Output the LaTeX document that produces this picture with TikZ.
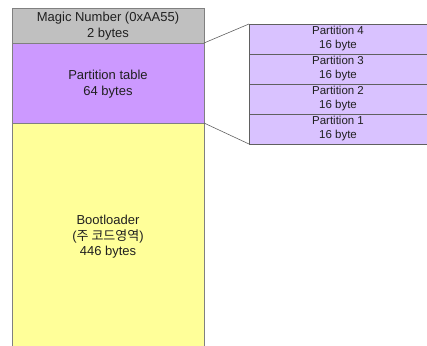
\documentclass[tikz,border=0pt]{standalone}
\usepackage{fontspec}
\setmainfont{Liberation Sans}
\newfontfamily\kr{Noto Sans CJK KR}
\definecolor{cgray}{HTML}{C0C0C0}
\definecolor{cpurple}{HTML}{CC99FF}
\definecolor{cyellow}{HTML}{FFFF99}
\definecolor{clight}{HTML}{D9C2FF}
\definecolor{cedge}{HTML}{808080}
\definecolor{cpedge}{HTML}{606060}
\definecolor{ctext}{HTML}{202020}
\begin{document}
\begin{tikzpicture}[x=1pt,y=-1pt,
  lbl/.style={text=ctext,font=\fontsize{13}{15.5}\selectfont,align=center},
  plbl/.style={text=ctext,font=\fontsize{11.5}{14}\selectfont,align=center},
  blk/.style={draw=cedge,line width=0.8pt},
  pblk/.style={draw=cpedge,line width=0.8pt,fill=clight},
  link/.style={draw=cpedge,line width=0.6pt}]
\useasboundingbox (0,0) rectangle (427,345);
% left column
\fill[cyellow] (12,123) rectangle (204,346);
\draw[blk] (12,346) -- (12,123) -- (204,123) -- (204,346);
\draw[blk,fill=cpurple] (12,43) rectangle (204,123);
\draw[blk,fill=cgray] (12,8) rectangle (204,43);
\node[lbl] (magic) at (108,26) {Magic Number (0xAA55)\\2 bytes};
\node[lbl] (ptab) at (108,84) {Partition table\\64 bytes};
\node[lbl] (boot) at (108,237) {Bootloader\\({\kr 주 코드영역})\\446 bytes};
\coordinate (lt) at (204,43);
\coordinate (lb) at (204,123);
% right partitions
\foreach \i/\y in {4/24,3/54,2/84,1/114}{
  \fill[clight] (249,\y) rectangle (428,\y+30);
  \draw[pblk] (428,\y) -- (249,\y) -- (249,\y+30) -- (428,\y+30);
  \node[plbl] (p\i) at (338,\y+15) {Partition \i\\16 byte};
}
\coordinate (rt) at (249,24);
\coordinate (rb) at (249,144);
\draw[link] (lt) -- (rt);
\draw[link] (lb) -- (rb);
\end{tikzpicture}
\end{document}
